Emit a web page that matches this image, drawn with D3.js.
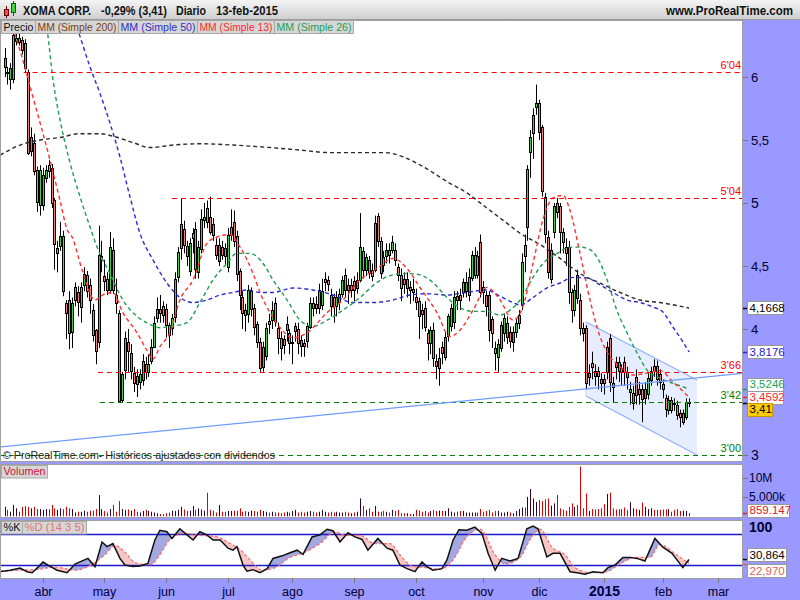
<!DOCTYPE html>
<html><head><meta charset="utf-8">
<script src="https://cdn.jsdelivr.net/npm/d3@7"></script>
<style>
html,body{margin:0;padding:0;background:#fff;}
svg{display:block;font-family:"Liberation Sans",Arial,sans-serif;}
</style></head><body>
<svg id="chart" width="800" height="600"></svg>
<script>
// ---------------- DATA ----------------
const titleParts = ["XOMA CORP.", "-0,29% (3,41)", "Diario", "13-feb-2015"];
const startDate = "2014-03-13";
const holidays = ["2014-04-18","2014-05-26","2014-07-04","2014-09-01","2014-11-27","2014-12-25","2015-01-01","2015-01-19","2015-02-16"];
const monthNames = ["2015","feb","mar","abr","may","jun","jul","ago","sep","oct","nov","dic"];

const open = [6.08,6.04,5.98,5.98,6.29,6.31,6.29,6.27,6.04,5.41,
5.48,5.26,4.98,4.98,5.20,5.30,5.28,5.02,4.60,4.66,
4.74,4.21,4.23,3.98,4.23,4.29,4.17,4.35,4.43,4.35,
4.15,3.99,3.90,4.55,4.42,4.40,4.31,4.63,4.27,4.13,
3.43,3.68,3.90,3.67,3.65,3.63,3.58,3.60,3.72,3.66,
3.75,3.86,4.09,4.16,4.18,4.16,4.03,4.01,4.10,4.41,
4.64,4.79,4.66,4.46,4.72,4.79,4.45,4.63,4.87,4.96,
4.89,4.83,4.67,4.54,4.65,4.64,4.50,4.75,4.85,4.74,
4.46,4.25,4.15,4.12,4.16,4.17,4.04,3.90,3.70,3.79,
4.06,4.07,4.21,4.01,3.93,3.92,3.99,3.97,3.89,3.98,
4.00,3.91,3.89,3.90,4.02,4.21,4.20,4.17,4.19,4.38,
4.39,4.27,4.25,4.18,4.22,4.28,4.43,4.35,4.31,4.38,
4.33,4.39,4.62,4.47,4.55,4.47,4.47,4.90,4.70,4.57,
4.58,4.63,4.63,4.63,4.49,4.43,4.40,4.33,4.33,4.30,
4.25,4.22,4.15,4.17,3.97,3.89,3.99,3.75,3.69,3.86,
3.78,3.94,4.03,4.05,4.26,4.27,4.29,4.30,4.27,4.41,
4.43,4.58,4.69,4.33,4.27,4.27,4.08,3.85,3.78,3.85,
3.97,3.94,3.98,3.90,3.98,4.05,4.19,4.67,4.81,5.40,
5.56,5.76,5.79,5.60,5.05,4.73,4.40,4.77,5.00,4.98,
4.77,4.65,4.65,4.29,4.15,4.43,4.23,4.01,4.01,3.62,
3.73,3.67,3.67,3.60,3.60,3.66,3.93,3.57,3.74,3.74,
3.69,3.74,3.66,3.50,3.41,3.62,3.48,3.52,3.45,3.48,
3.60,3.71,3.71,3.64,3.56,3.45,3.36,3.44,3.41,3.40,
3.33,3.26,3.30,3.42];
const high = [6.23,6.08,6.11,6.40,6.40,6.40,6.32,6.30,6.06,5.60,
5.55,5.29,5.30,5.28,5.30,5.34,5.31,5.04,4.70,4.85,
4.78,4.23,4.30,4.25,4.37,4.34,4.37,4.49,4.46,4.40,
4.20,4.00,4.82,4.70,4.55,4.45,4.77,4.72,4.40,4.15,
3.66,3.98,4.00,3.88,3.70,3.68,3.68,3.80,3.78,3.80,
3.92,4.10,4.25,4.27,4.22,4.20,4.05,4.12,4.45,4.65,
5.04,4.86,4.70,4.72,4.80,4.85,4.70,4.95,5.00,5.02,
5.05,4.88,4.72,4.72,4.70,4.68,4.80,4.95,4.94,4.78,
4.48,4.30,4.20,4.35,4.33,4.20,4.06,3.93,3.90,4.05,
4.12,4.22,4.25,4.05,3.98,3.95,4.10,4.00,3.95,4.05,
4.05,3.95,3.92,4.05,4.25,4.25,4.26,4.36,4.40,4.45,
4.42,4.32,4.28,4.30,4.32,4.42,4.48,4.40,4.40,4.42,
4.45,4.92,4.65,4.60,4.58,4.52,4.90,4.92,4.73,4.62,
4.68,4.68,4.74,4.68,4.52,4.48,4.45,4.45,4.38,4.40,
4.32,4.25,4.20,4.22,4.00,4.02,4.05,3.80,3.85,3.90,
3.98,4.12,4.20,4.30,4.30,4.32,4.40,4.45,4.48,4.62,
4.65,4.62,4.75,4.38,4.30,4.30,4.10,3.90,3.92,4.06,
4.12,4.10,4.02,4.02,4.08,4.15,4.60,4.75,5.30,5.58,
5.75,5.94,5.82,5.62,5.08,4.78,4.68,5.00,5.04,5.00,
4.80,4.72,4.70,4.32,4.35,4.47,4.28,4.05,4.03,3.72,
3.82,3.72,3.70,3.65,3.64,3.90,3.96,3.62,3.78,3.78,
3.72,3.78,3.70,3.58,3.55,3.68,3.58,3.56,3.58,3.65,
3.70,3.76,3.75,3.68,3.60,3.48,3.47,3.46,3.45,3.43,
3.36,3.36,3.45,3.45];
const low = [6.00,5.94,5.90,5.95,6.25,6.25,6.18,6.03,5.38,5.37,
5.22,4.93,4.90,4.94,5.16,5.20,4.96,4.47,4.45,4.62,
4.26,3.92,3.84,3.85,4.18,4.10,4.05,4.30,4.25,4.12,
3.90,3.72,3.85,4.45,4.30,4.27,4.28,4.28,4.12,3.42,
3.42,3.60,3.66,3.60,3.50,3.46,3.52,3.55,3.60,3.62,
3.72,3.85,4.05,4.05,4.05,3.93,3.85,3.95,4.05,4.37,
4.55,4.60,4.50,4.42,4.60,4.40,4.40,4.60,4.80,4.80,
4.75,4.70,4.55,4.50,4.55,4.50,4.45,4.70,4.65,4.38,
4.15,4.00,3.98,4.05,4.10,3.95,3.85,3.66,3.66,3.75,
3.96,4.00,4.02,3.80,3.75,3.80,3.90,3.80,3.72,3.90,
3.80,3.78,3.78,3.85,4.00,4.10,4.12,4.12,4.15,4.30,
4.30,4.10,4.05,4.10,4.15,4.25,4.25,4.20,4.25,4.22,
4.28,4.37,4.40,4.42,4.40,4.38,4.45,4.65,4.40,4.45,
4.52,4.52,4.60,4.50,4.38,4.22,4.28,4.25,4.20,4.22,
4.15,3.92,4.00,3.98,3.75,3.80,3.70,3.60,3.55,3.72,
3.75,3.90,3.98,4.00,4.15,4.15,4.25,4.25,4.22,4.38,
4.40,4.40,4.25,4.20,4.10,3.90,3.85,3.67,3.66,3.82,
3.90,3.88,3.85,3.82,3.93,4.00,4.15,4.45,4.70,5.20,
5.35,5.70,5.50,5.05,4.68,4.40,4.36,4.72,4.88,4.60,
4.60,4.50,4.20,4.05,4.10,4.20,3.95,3.90,3.52,3.55,
3.60,3.55,3.52,3.50,3.48,3.60,3.50,3.42,3.60,3.58,
3.55,3.55,3.52,3.40,3.36,3.40,3.40,3.26,3.40,3.44,
3.55,3.62,3.55,3.52,3.45,3.30,3.32,3.33,3.35,3.28,
3.22,3.24,3.28,3.38];
const close = [6.15,6.03,6.07,6.33,6.31,6.28,6.21,6.07,5.40,5.52,
5.26,5.01,5.26,5.22,5.26,5.25,5.00,4.67,4.64,4.74,
4.30,4.13,3.97,4.21,4.33,4.21,4.33,4.44,4.30,4.23,
3.95,3.82,4.59,4.58,4.38,4.31,4.65,4.31,4.21,3.43,
3.64,3.93,3.83,3.81,3.57,3.57,3.64,3.75,3.66,3.72,
3.86,4.05,4.16,4.13,4.11,4.03,3.95,4.09,4.40,4.61,
4.83,4.66,4.58,4.68,4.76,4.47,4.65,4.87,4.89,4.85,
4.77,4.74,4.59,4.67,4.59,4.58,4.75,4.81,4.70,4.44,
4.27,4.12,4.11,4.31,4.30,4.02,3.90,3.69,3.86,4.01,
4.04,4.15,4.07,3.93,3.85,3.87,4.04,3.89,3.90,4.02,
3.89,3.86,3.87,4.02,4.21,4.17,4.17,4.31,4.30,4.40,
4.36,4.18,4.18,4.25,4.28,4.39,4.31,4.31,4.35,4.31,
4.39,4.65,4.47,4.57,4.45,4.42,4.84,4.70,4.45,4.51,
4.63,4.59,4.69,4.55,4.43,4.33,4.36,4.40,4.31,4.32,
4.21,4.10,4.12,4.02,3.89,3.99,3.77,3.71,3.77,3.81,
3.94,4.10,4.17,4.25,4.23,4.23,4.37,4.37,4.41,4.59,
4.59,4.43,4.29,4.29,4.18,3.99,3.97,3.81,3.88,4.03,
4.09,4.05,3.91,3.98,4.05,4.11,4.53,4.58,5.27,5.52,
5.70,5.79,5.56,5.09,4.76,4.45,4.63,4.98,4.93,4.77,
4.69,4.60,4.29,4.15,4.31,4.25,4.01,3.97,3.57,3.65,
3.70,3.63,3.63,3.57,3.57,3.86,3.58,3.54,3.70,3.67,
3.66,3.66,3.62,3.52,3.49,3.48,3.52,3.44,3.52,3.61,
3.67,3.67,3.61,3.58,3.52,3.36,3.44,3.36,3.40,3.32,
3.30,3.33,3.42,3.41];
// volume in millions of shares
const volume = [2.5,1.7,1.2,3.0,2.1,1.2,2.5,2.7,2.5,2.1,
2.5,1.9,1.9,1.7,1.9,1.9,3.0,2.1,1.7,2.1,
1.9,2.5,2.1,1.9,1.0,1.2,1.2,1.5,1.2,1.5,
1.5,1.9,5.6,1.9,1.4,1.0,1.9,3.0,1.2,4.0,
1.9,1.7,1.8,1.5,1.9,1.2,1.0,1.4,1.7,1.4,
1.2,1.0,0.8,0.6,0.6,0.8,1.0,1.5,1.4,1.7,
2.5,1.8,1.4,1.5,2.7,1.7,2.1,1.8,1.5,6.2,
1.7,1.5,1.0,3.0,1.2,1.2,1.4,1.4,1.5,1.4,
2.1,1.2,1.4,1.2,1.5,1.4,1.2,1.7,1.4,1.2,
1.0,1.2,1.0,1.0,0.8,1.0,1.2,1.0,1.4,1.7,
1.0,1.2,1.0,1.2,1.4,1.2,1.0,1.2,1.7,1.2,
1.0,1.2,1.0,1.2,1.0,1.0,1.2,1.0,0.8,1.0,
1.2,4.7,2.7,1.7,2.1,1.2,2.7,1.2,1.2,1.4,
1.2,1.0,1.7,1.4,1.7,0.8,0.8,0.8,0.6,0.6,
1.7,1.5,1.2,1.4,1.0,1.4,1.7,1.4,1.5,1.4,
1.4,2.1,1.2,1.0,1.2,1.4,1.4,1.0,1.0,1.0,
1.0,1.0,1.9,1.2,1.4,1.7,1.0,1.4,1.4,1.0,
1.0,1.2,1.0,0.8,1.4,1.9,2.3,2.3,5.1,7.2,
4.7,3.8,4.3,4.0,4.5,4.7,2.8,3.4,5.6,2.1,
1.7,1.5,2.5,3.4,2.5,3.0,13.1,2.1,6.0,1.4,
1.9,1.8,1.9,2.1,3.2,5.9,6.2,2.1,1.8,1.9,
1.9,2.3,1.7,3.7,2.1,1.9,1.7,3.6,2.5,1.9,
2.1,1.7,1.7,1.7,1.8,1.8,1.9,1.2,1.7,1.9,
1.4,1.5,1.4,0.859147];

// moving averages: [bar index, value]
const sma200 = [[-1.5,5.38],[5.3,5.46],[12.1,5.50],[18.9,5.52],[25.7,5.55],[32.5,5.55],[36.9,5.53],[43.7,5.48],[49.5,5.44],[57.4,5.46],[66.5,5.47],[77.8,5.46],[84.6,5.45],[90.4,5.44],[100.6,5.42],[110.8,5.40],[121,5.40],[129.5,5.40],[136.3,5.36],[143.1,5.28],[150.6,5.17],[157.4,5.08],[164.2,4.96],[171,4.84],[175.5,4.76],[182.3,4.67],[189.1,4.56],[195.9,4.44],[202.7,4.365],[209.5,4.29],[216.3,4.23],[223.1,4.21],[233,4.1668]];
const sma50 = [[23,6.50],[25,6.37],[29.1,6.08],[32.5,5.87],[35.9,5.635],[39.3,5.365],[42.7,5.05],[46.1,4.76],[50.5,4.55],[55.3,4.365],[59.7,4.25],[64.2,4.21],[68.9,4.23],[73.4,4.27],[77.8,4.29],[82.5,4.31],[87,4.29],[91.4,4.29],[98.2,4.325],[105,4.31],[111.8,4.27],[118.6,4.21],[125.4,4.21],[132.2,4.23],[138,4.27],[143.8,4.28],[150.6,4.27],[157.4,4.29],[164.2,4.31],[168.7,4.26],[173.1,4.21],[175.5,4.19],[179.9,4.25],[184.6,4.325],[189.1,4.365],[193.5,4.41],[198.3,4.405],[202.7,4.35],[207.1,4.29],[211.9,4.23],[216.3,4.21],[220.7,4.175],[224.1,4.135],[227.5,4.016],[230.6,3.91],[233,3.8176]];
const sma13 = [[2,6.45],[5.3,6.21],[9.7,5.84],[15.5,5.34],[18.9,5.02],[21.3,4.79],[23,4.73],[26.4,4.47],[30.8,4.23],[33.5,4.27],[36.9,4.29],[40.3,4.13],[45.1,3.97],[48.5,3.83],[50.5,3.76],[52.9,3.86],[56.3,3.97],[59.7,4.23],[64.2,4.39],[68.9,4.68],[72.3,4.73],[76.8,4.75],[80.2,4.65],[84.6,4.44],[87.5,4.26],[90.4,4.13],[93.8,4.01],[98.2,3.93],[103,3.97],[109.8,4.13],[115.2,4.23],[121,4.39],[126.8,4.48],[132.2,4.56],[137,4.48],[141.4,4.33],[147.2,4.13],[151.6,3.94],[155,3.99],[159.5,4.15],[164.2,4.33],[168.7,4.23],[173.1,4.07],[176.5,4.18],[179.9,4.52],[183.3,4.87],[186.7,5.04],[190.1,5.06],[192.5,4.94],[195.9,4.60],[199.3,4.23],[202.7,3.94],[206.1,3.78],[209.5,3.70],[213.9,3.635],[218.7,3.65],[223.1,3.67],[227.5,3.58],[233,3.4592]];
const sma26 = [[13,6.50],[14.5,6.37],[16.5,5.98],[18.9,5.66],[22.3,5.32],[25.7,5.05],[29.1,4.81],[31.5,4.65],[35.9,4.44],[40.3,4.23],[45.1,4.10],[48.5,4.05],[52.9,4.01],[56.3,4.02],[62.1,4.05],[66.5,4.21],[71,4.39],[75.7,4.52],[79.1,4.60],[83.6,4.60],[88,4.52],[91.4,4.39],[96.2,4.23],[100.6,4.07],[105,4.02],[109.8,4.07],[115.2,4.15],[121,4.25],[126.8,4.37],[132.2,4.43],[137,4.44],[141.4,4.43],[145.8,4.37],[150.6,4.25],[155,4.17],[159.5,4.14],[164.2,4.14],[168.7,4.11],[172.1,4.15],[175.5,4.23],[179.9,4.41],[183.3,4.52],[188.1,4.60],[192.5,4.65],[195.9,4.65],[199.3,4.63],[201.7,4.57],[205.1,4.39],[208.4,4.15],[211.9,3.97],[215.3,3.81],[218.7,3.675],[223.1,3.61],[227.5,3.57],[233,3.5246]];

// stochastic %K and %D: [bar index, value]
const stochK = [[-1.5,7],[1.9,10],[5.3,14],[7.7,7],[9.4,5],[11.1,14],[13.1,26],[14.8,20],[17.9,10],[21.3,5],[24,22],[28.4,33],[30.8,17],[33.2,65],[34.9,56],[36.9,62],[39.3,33],[41,20],[43.7,17],[46.1,18],[48.8,23],[51.2,69],[52.9,88],[55.3,85],[57,72],[59.7,91],[62.1,79],[64.2,69],[66.5,85],[68.9,79],[71,69],[73.4,69],[76.1,53],[77.8,49],[79.1,56],[81.2,20],[82.5,8],[84.6,11],[87,5],[89.4,13],[91.4,33],[94.5,38],[97.2,44],[99.6,49],[101.6,41],[104.7,75],[107.4,79],[109.8,90],[111.8,87],[114.2,65],[116.9,83],[119.3,75],[121.7,70],[123.7,49],[127.1,72],[130.2,53],[132.2,49],[134.6,20],[137,13],[139.7,7],[142.1,26],[143.8,17],[145.8,10],[148.9,13],[150.6,30],[152.7,69],[154.7,89],[157.4,88],[160.1,94],[162.5,82],[164.6,43],[167,10],[169.3,33],[172.1,28],[174.8,33],[177.8,91],[179.9,96],[181.6,91],[184.6,36],[186.7,43],[189.1,43],[192.5,7],[194.9,5],[197.6,2],[200.3,7],[203.7,5],[205.4,15],[207.8,20],[210.5,35],[212.9,35],[215.3,33],[218,28],[221.4,72],[224.1,55],[227.2,43],[230.9,15],[233,30.864]];
const stochD = [[-1.5,8],[5.3,10],[12.1,12],[17.2,16],[24,10],[30.8,25],[34.2,40],[37.6,58],[41,45],[44.4,25],[49.5,20],[52.9,40],[56.3,70],[61.4,82],[66.5,78],[71.6,76],[76.8,62],[80.2,50],[83.6,30],[87.6,10],[92.1,15],[97.2,35],[102.3,45],[107.4,62],[112.5,85],[115.9,78],[121,78],[126.1,62],[131.2,62],[134.6,40],[138.7,18],[143.1,15],[148.2,12],[153.3,35],[156.7,70],[161.9,90],[167,40],[170.4,22],[175.5,35],[178.9,70],[182.3,90],[186.3,55],[190.8,40],[194.2,15],[199.3,5],[204.4,6],[209.5,22],[214.6,35],[219.7,35],[223.1,60],[228.2,42],[233,22.97]];
const stochLevels = [80, 20];

// drawn objects: horizontal levels, trend line, channel ([bar index, price])
const levelValues = [6.04, 5.04, 3.66, 3.42, 3.00];
const levelLabels = ["6'04", "5'04", "3'66", "3'42", "3'00"];
const levelStart = [6.5, 57, 31.8, 32.5, -2];
const levelKind = ["res", "res", "res", "sup", "sup"];
const trendLine = [[-1.53, 3.063], [251, 3.648]];
const channelUpper = [[197.9, 4.056], [235.7, 3.595]];
const channelLower = [[197.9, 3.468], [235.7, 3.0]];

const priceTicks = [3, 4, 4.5, 5, 5.5, 6];
const volumeTicks = [5, 10];
const volumeTickLabels = ["5.000k", "10M"];
const lastValues = {sma200: 4.1668, sma50: 3.8176, sma26: 3.5246, sma13: 3.4592, close: 3.41, volume: 0.859147, k: 30.864, d: 22.970};

// ---------------- LAYOUT ----------------
const svg = d3.select("#chart");
const defs = svg.append("defs");
const R = 742;
const P = {y0: 20, y1: 461}, V = {y0: 464, y1: 517}, S = {y0: 520, y1: 578};

function tradingDays(start, n) {
  const out = []; const d = new Date(start + "T12:00:00Z");
  while (out.length < n) {
    const wd = d.getUTCDay(); const iso = d.toISOString().slice(0, 10);
    if (wd !== 0 && wd !== 6 && !holidays.includes(iso)) out.push(iso);
    d.setUTCDate(d.getUTCDate() + 1);
  }
  return out;
}
const days = tradingDays(startDate, 244);
const x = d3.scaleLinear().domain([0, 243]).range([4.5, 718.4]);
const yP = d3.scaleLinear().domain([3, 6]).range([455, 77]);
const yV = d3.scaleLinear().domain([0, 10]).range([516.3, 478.3]);
const yS = d3.scaleLinear().domain([0, 100]).range([575.3, 524.1]);

function fitText(sel, w) {
  const n = sel.node().getComputedTextLength();
  if (Math.abs(n - w) > 1) sel.attr("textLength", w).attr("lengthAdjust", "spacingAndGlyphs");
  return sel;
}

svg.append("rect").attr("width", 800).attr("height", 600).attr("fill", "#9999ff");
const g1 = defs.append("linearGradient").attr("id", "tb").attr("x1", 0).attr("y1", 0).attr("x2", 0).attr("y2", 1);
g1.append("stop").attr("offset", "0%").attr("stop-color", "#f4f4f4");
g1.append("stop").attr("offset", "100%").attr("stop-color", "#cdcdcd");
svg.append("rect").attr("x", 0).attr("y", 0).attr("width", 800).attr("height", 20).attr("fill", "url(#tb)");
svg.append("line").attr("x1", 0).attr("x2", 800).attr("y1", 19.5).attr("y2", 19.5).attr("stroke", "#9a9a9a");

[P, V, S].forEach((p, i) => {
  svg.append("rect").attr("x", 0.5).attr("y", p.y0 + 0.5).attr("width", R).attr("height", p.y1 - p.y0)
    .attr("fill", "#fff").attr("stroke", "#a0a0a0");
  defs.append("clipPath").attr("id", "clip" + i).append("rect")
    .attr("x", 1).attr("y", p.y0 + 1).attr("width", R - 1).attr("height", p.y1 - p.y0 - 1);
});

const logo = svg.append("g");
logo.append("line").attr("x1", 6.5).attr("x2", 6.5).attr("y1", 6).attr("y2", 18).attr("stroke", "#600");
logo.append("rect").attr("x", 4.5).attr("y", 9.5).attr("width", 4).attr("height", 6).attr("fill", "#e05555").attr("stroke", "#700");
logo.append("line").attr("x1", 13.5).attr("x2", 13.5).attr("y1", 1).attr("y2", 16).attr("stroke", "#060");
logo.append("rect").attr("x", 11.5).attr("y", 3.5).attr("width", 4).attr("height", 9).attr("fill", "#40d040").attr("stroke", "#060");
const titleX = [23, 101, 176, 216], titleW = [68, 66, 30, 62];
titleParts.forEach((t, i) => fitText(svg.append("text").attr("x", titleX[i]).attr("y", 15).attr("font-size", 12.5)
  .attr("font-weight", "bold").attr("fill", "#111").text(t), titleW[i]));
fitText(svg.append("text").attr("x", 666).attr("y", 15).attr("font-size", 12)
  .attr("font-weight", "bold").attr("fill", "#111").text("www.ProRealTime.com"), 127);

// ---------------- PRICE PANEL ----------------
const gp = svg.append("g").attr("clip-path", "url(#clip0)");
const pt = d => [x(d[0]), yP(d[1])];

gp.append("path").attr("d", d3.line()([...channelUpper.map(pt), ...channelLower.slice().reverse().map(pt)]) + "Z")
  .attr("fill", "#e6edff").attr("stroke", "none");
[channelUpper, channelLower].forEach(l => gp.append("path").attr("d", d3.line()(l.map(pt)))
  .attr("stroke", "#8fb0ff").attr("stroke-width", 1.2).attr("fill", "none"));
gp.append("line").attr("x1", x(channelUpper[0][0])).attr("x2", x(channelLower[0][0]))
  .attr("y1", yP(channelUpper[0][1])).attr("y2", yP(channelLower[0][1])).attr("stroke", "#c9d7ff");

const idx = d3.range(close.length);
const cx = i => Math.round(x(i));
gp.selectAll("line.wick").data(idx).join("line").attr("class", "wick")
  .attr("x1", i => cx(i) + 0.5).attr("x2", i => cx(i) + 0.5)
  .attr("y1", i => yP(high[i])).attr("y2", i => yP(low[i])).attr("stroke", "#000").attr("stroke-width", 1);
gp.selectAll("rect.body").data(idx).join("rect").attr("class", "body")
  .attr("x", i => cx(i) - 0.5).attr("width", 2)
  .attr("y", i => Math.round(yP(Math.max(open[i], close[i]))) + 0.5)
  .attr("height", i => Math.max(1, Math.round(Math.abs(yP(open[i]) - yP(close[i])))))
  .attr("fill", i => close[i] >= open[i] ? "#3fd43f" : "#f08080").attr("stroke", "#000").attr("stroke-width", 1);

const maLine = d3.line().x(d => x(d[0])).y(d => yP(d[1])).curve(d3.curveMonotoneX);
[[sma200, "#2a2a2a"], [sma50, "#2b2bd6"], [sma26, "#1f9e50"], [sma13, "#ff3030"]].forEach(([s, c]) =>
  gp.append("path").attr("d", maLine(s)).attr("fill", "none").attr("stroke", c)
    .attr("stroke-width", 1.4).attr("stroke-dasharray", "4,3"));

levelValues.forEach((v, i) => {
  const col = levelKind[i] === "res" ? "#ff0000" : "#008000";
  gp.append("line").attr("x1", Math.max(0, x(levelStart[i]))).attr("x2", R).attr("y1", Math.round(yP(v)) + 0.5)
    .attr("y2", Math.round(yP(v)) + 0.5).attr("stroke", col).attr("stroke-width", 1.2).attr("stroke-dasharray", "5,4");
  svg.append("text").attr("x", 741).attr("y", yP(v) - 3).attr("text-anchor", "end").attr("font-size", 11)
    .attr("fill", col).text(levelLabels[i]);
});

gp.append("path").attr("d", d3.line()(trendLine.map(pt))).attr("stroke", "#6f9bff").attr("stroke-width", 1.3).attr("fill", "none");

fitText(svg.append("text").attr("x", 3).attr("y", 459).attr("font-size", 11.5).attr("fill", "#222")
  .text("© ProRealTime.com- Históricos ajustados con dividendos"), 272);

function legend(y, h, items) {
  items.forEach(it => {
    svg.append("rect").attr("x", it.x0 + 0.5).attr("y", y + 0.5).attr("width", it.x1 - it.x0).attr("height", h)
      .attr("fill", "#d6d6d6").attr("stroke", "#a8a8a8");
    const t = svg.append("text").attr("x", it.x0 + 2.5).attr("y", y + h - 2.5).attr("font-size", 11.5)
      .attr("fill", it.c).text(it.t);
    const w = t.node().getComputedTextLength();
    if (w > it.x1 - it.x0 - 4) t.attr("textLength", it.x1 - it.x0 - 4).attr("lengthAdjust", "spacingAndGlyphs");
  });
}
legend(20, 13, [
  {t: "Precio", c: "#111", x0: 1, x1: 35},
  {t: "MM (Simple 200)", c: "#7a3d12", x0: 35, x1: 118},
  {t: "MM (Simple 50)", c: "#3030c8", x0: 118, x1: 197},
  {t: "MM (Simple 13)", c: "#ff2a2a", x0: 197, x1: 274},
  {t: "MM (Simple 26)", c: "#1f9e55", x0: 274, x1: 353}
]);

priceTicks.forEach(v => {
  svg.append("line").attr("x1", 743).attr("x2", 748).attr("y1", Math.round(yP(v)) + 0.5).attr("y2", Math.round(yP(v)) + 0.5).attr("stroke", "#777");
  svg.append("text").attr("x", 751).attr("y", yP(v) + 5).attr("font-size", (v === 5 || v === 3) ? 14 : 13)
    .attr("fill", "#000033").text(String(v).replace(".", ","));
});
function valueBox(v, yScale, dy, txt, color, bg, border, w) {
  const yy = yScale(v);
  svg.append("line").attr("x1", 743).attr("x2", 748).attr("y1", Math.round(yy) + 0.5).attr("y2", Math.round(yy) + 0.5).attr("stroke", color).attr("stroke-width", 1.5);
  const cy = yy + dy;
  svg.append("rect").attr("x", 747.5).attr("y", Math.round(cy - 6.5) + 0.5).attr("width", w).attr("height", 13)
    .attr("fill", bg).attr("stroke", border);
  svg.append("text").attr("x", 749.5).attr("y", cy + 4).attr("font-size", 11.5).attr("fill", color).text(txt);
}
const fmt4 = v => v.toFixed(4).replace(".", ",");
valueBox(lastValues.sma200, yP, 0, fmt4(lastValues.sma200), "#000", "#fff", "#999", 36);
valueBox(lastValues.sma50, yP, 0, fmt4(lastValues.sma50), "#2323d8", "#fff", "#999", 36);
valueBox(lastValues.sma26, yP, -4.5, fmt4(lastValues.sma26), "#1f9e55", "#fff", "#999", 36);
valueBox(lastValues.sma13, yP, 0, fmt4(lastValues.sma13), "#ff2222", "#fff", "#999", 36);
valueBox(lastValues.close, yP, 6, "3,41", "#000", "#ffcc00", "#c89600", 25);

// ---------------- VOLUME PANEL ----------------
const gv = svg.append("g").attr("clip-path", "url(#clip1)");
gv.selectAll("line.vol").data(idx).join("line").attr("class", "vol")
  .attr("x1", i => cx(i) + 0.5).attr("x2", i => cx(i) + 0.5)
  .attr("y1", yV(0)).attr("y2", i => yV(volume[i]))
  .attr("stroke", i => close[i] >= open[i] ? "#330033" : "#e00000").attr("stroke-width", 1);
legend(465, 12.5, [{t: "Volumen", c: "#d0103a", x0: 1, x1: 47}]);
volumeTicks.forEach((v, i) => {
  svg.append("line").attr("x1", 743).attr("x2", 748).attr("y1", Math.round(yV(v)) + 0.5).attr("y2", Math.round(yV(v)) + 0.5).attr("stroke", "#777");
  svg.append("text").attr("x", 749).attr("y", yV(v) + 3.5).attr("font-size", 12).attr("fill", "#000033").text(volumeTickLabels[i]);
});
valueBox(lastValues.volume, yV, -3, "859.147", "#e02020", "#fff", "#999", 42);

// ---------------- STOCHASTIC PANEL ----------------
const gs = svg.append("g").attr("clip-path", "url(#clip2)");
const kLine = d3.line().x(d => x(d[0])).y(d => yS(d[1]));
const dLine = d3.line().x(d => x(d[0])).y(d => yS(d[1])).curve(d3.curveMonotoneX);
const sTop = S.y0, sBot = S.y1;
const kArea = (edge) => d3.area().x(d => x(d[0])).y0(edge).y1(d => yS(d[1]));
const dArea = (edge) => d3.area().x(d => x(d[0])).y0(edge).y1(d => yS(d[1])).curve(d3.curveMonotoneX);
defs.append("clipPath").attr("id", "belowK").append("path").attr("d", kArea(sBot)(stochK));
defs.append("clipPath").attr("id", "aboveK").append("path").attr("d", kArea(sTop)(stochK));
gs.append("g").attr("clip-path", "url(#belowK)").append("path").attr("d", dArea(sTop)(stochD)).attr("fill", "#a3a8e0");
gs.append("g").attr("clip-path", "url(#aboveK)").append("path").attr("d", dArea(sBot)(stochD)).attr("fill", "#f6c6c6");
stochLevels.forEach(v => gs.append("line").attr("x1", 0).attr("x2", R).attr("y1", Math.round(yS(v)) + 0.5)
  .attr("y2", Math.round(yS(v)) + 0.5).attr("stroke", "#1a1acc").attr("stroke-width", 1.3));
gs.append("path").attr("d", dLine(stochD)).attr("fill", "none").attr("stroke", "#ff6b6b").attr("stroke-width", 1.2).attr("stroke-dasharray", "3,2");
gs.append("path").attr("d", kLine(stochK)).attr("fill", "none").attr("stroke", "#111").attr("stroke-width", 1.5);
legend(521, 12.5, [{t: "%K", c: "#111", x0: 1, x1: 22}, {t: "%D (14 3 5)", c: "#e57373", x0: 22, x1: 86}]);
svg.append("text").attr("x", 749).attr("y", 531.5).attr("font-size", 14).attr("font-weight", "bold").attr("fill", "#000033").text("100");
valueBox(lastValues.k, yS, -4.5, "30,864", "#000", "#fff", "#999", 39);
valueBox(lastValues.d, yS, 7, "22,970", "#e06060", "#fff", "#999", 39);

// ---------------- TIME AXIS ----------------
const monthStarts = d3.range(1, days.length).filter(i => days[i].slice(5, 7) !== days[i - 1].slice(5, 7));
monthStarts.forEach(i => {
  const m = +days[i].slice(5, 7) - 1;
  const xx = cx(i) + 0.5;
  svg.append("line").attr("x1", xx).attr("x2", xx).attr("y1", 578).attr("y2", 583).attr("stroke", "#777");
  svg.append("text").attr("x", xx).attr("y", 595.5).attr("text-anchor", "middle")
    .attr("font-size", m === 0 ? 14 : 12.5).attr("font-weight", m === 0 ? "bold" : "normal")
    .attr("fill", "#000033").text(monthNames[m]);
});
</script>
</body></html>
